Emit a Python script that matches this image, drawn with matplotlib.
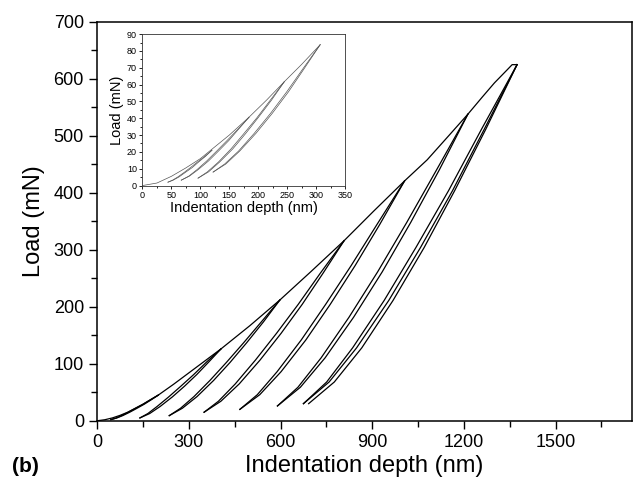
import matplotlib.pyplot as plt
from matplotlib.ticker import MultipleLocator

plt.rcParams['font.family'] = ['Liberation Sans', 'DejaVu Sans']

# loading envelope (main test)
env_depth = [0, 25, 50, 75, 100, 150, 200, 250, 300, 350, 405, 500, 598, 700, 808, 905, 1006, 1080, 1150, 1213, 1260, 1300, 1340, 1358, 1374]
env_load = [0, 1.8, 5, 9.5, 15, 29, 45, 64, 84, 104, 126, 167, 212, 262, 316, 368, 421, 458, 500, 538, 568, 593, 615, 625, 625]

# unloading curves, one list per cycle (peak -> end)
unload_depth = [
    [200, 177, 154, 130, 107, 84, 64, 45],
    [405, 365, 326, 286, 246, 206, 172, 140],
    [598, 544, 489, 435, 381, 327, 279, 236],
    [808, 739, 671, 602, 533, 465, 405, 350],
    [1006, 925, 844, 763, 683, 602, 532, 467],
    [1213, 1120, 1026, 933, 839, 746, 665, 590],
    [1374, 1267, 1163, 1058, 954, 849, 759, 675],
    [1374, 1272, 1170, 1070, 968, 866, 776, 692],
]
unload_load = [
    [45, 36.8, 29.0, 21.8, 15.1, 9.1, 4.8, 2],
    [126, 103.0, 81.1, 60.7, 41.8, 25.0, 12.7, 5],
    [212, 173.4, 136.7, 102.4, 70.7, 42.5, 22.0, 9],
    [316, 258.8, 204.3, 153.5, 106.5, 64.7, 34.3, 15],
    [421, 344.8, 272.2, 204.5, 141.9, 86.2, 45.7, 20],
    [538, 440.7, 348.0, 261.5, 181.6, 110.5, 58.8, 26],
    [625, 512, 404, 304, 211, 128, 68, 30],
    [625, 512, 404, 304, 211, 128, 68, 30],
]
# reloading curves back up to the previous peak (end -> peak)
reload_depth = [
    [45, 62, 80, 102, 125, 150, 174, 200],
    [140, 166, 196, 234, 274, 316, 358, 405],
    [236, 273, 317, 369, 423, 479, 537, 598],
    [350, 397, 452, 518, 587, 658, 730, 808],
    [467, 524, 589, 668, 748, 831, 916, 1006],
    [590, 657, 733, 824, 918, 1013, 1111, 1213],
    [675, 751, 836, 939, 1043, 1150, 1258, 1374],
]
reload_load = [
    [2, 4.8, 9.1, 15.1, 21.8, 29.0, 36.8, 45],
    [5, 12.7, 25.0, 41.8, 60.7, 81.1, 103.0, 126],
    [9, 22.0, 42.5, 70.7, 102.4, 136.7, 173.4, 212],
    [15, 34.3, 64.7, 106.5, 153.5, 204.3, 258.8, 316],
    [20, 45.7, 86.2, 141.9, 204.5, 272.2, 344.8, 421],
    [26, 58.8, 110.5, 181.6, 261.5, 348.0, 440.7, 538],
    [30, 68, 128, 211, 304, 404, 512, 625],
]

# inset: low load test
in_env_depth = [0, 25, 50, 75, 100, 125, 150, 184, 215, 245, 275, 307]
in_env_load = [0, 1.5, 5.5, 10.5, 16, 23, 30, 40.6, 51, 61.7, 72, 83.7]
in_unload_depth = [
    [120, 109, 97, 86, 74, 63, 53, 44],
    [184, 166, 149, 131, 114, 96, 81, 67],
    [245, 223, 200, 178, 156, 133, 114, 96],
    [307, 279, 252, 224, 196, 168, 144, 122],
]
in_unload_load = [
    [21, 17.4, 14.0, 10.7, 7.8, 5.1, 3.2, 2],
    [40.6, 33.5, 26.7, 20.4, 14.6, 9.4, 5.6, 3.2],
    [61.7, 50.8, 40.4, 30.8, 21.8, 13.9, 8.1, 4.4],
    [83.7, 69.3, 55.6, 42.8, 31.0, 20.5, 12.8, 8],
]
in_reload_depth = [
    [44, 52, 61, 72, 83, 95, 108, 120],
    [67, 80, 94, 111, 128, 146, 165, 184],
    [96, 112, 131, 153, 175, 198, 221, 245],
    [122, 142, 166, 193, 221, 249, 277, 307],
]
in_reload_load = [
    [2, 3.2, 5.1, 7.8, 10.7, 14.0, 17.4, 21],
    [3.2, 5.6, 9.4, 14.6, 20.4, 26.7, 33.5, 40.6],
    [4.4, 8.1, 13.9, 21.8, 30.8, 40.4, 50.8, 61.7],
    [8, 12.8, 20.5, 31.0, 42.8, 55.6, 69.3, 83.7],
]

fig = plt.figure(figsize=(6.39, 4.87), dpi=100)
ax = fig.add_axes([0.152, 0.136, 0.837, 0.819])

lw = 0.9
ax.plot(env_depth, env_load, color='black', linewidth=lw)
for h, p in zip(unload_depth, unload_load):
    ax.plot(h, p, color='black', linewidth=lw)
for h, p in zip(reload_depth, reload_load):
    ax.plot(h, p, color='black', linewidth=lw)

ax.set_xlim(0, 1750)
ax.set_ylim(0, 700)
ax.xaxis.set_major_locator(MultipleLocator(300))
ax.xaxis.set_minor_locator(MultipleLocator(150))
ax.yaxis.set_major_locator(MultipleLocator(100))
ax.yaxis.set_minor_locator(MultipleLocator(50))
ax.tick_params(which='both', direction='out', top=False, right=False, labelsize=13, width=1)
ax.tick_params(which='major', length=6)
ax.tick_params(which='minor', length=4)
for s in ax.spines.values():
    s.set_linewidth(1.1)
ax.set_xlabel('Indentation depth (nm)', fontsize=17, labelpad=3)
ax.set_ylabel('Load (mN)', fontsize=17, labelpad=6)
fig.text(0.018, 0.03, '(b)', fontsize=15, fontweight='bold')

# inset
ins = fig.add_axes([0.223, 0.619, 0.317, 0.311])
gray = '#555555'
for h, p in [(in_env_depth, in_env_load)] + list(zip(in_unload_depth, in_unload_load)) + list(zip(in_reload_depth, in_reload_load)):
    ins.plot(h, p, color=gray, linewidth=0.5)
ins.set_xlim(0, 350)
ins.set_ylim(0, 90)
ins.xaxis.set_major_locator(MultipleLocator(50))
ins.xaxis.set_minor_locator(MultipleLocator(25))
ins.yaxis.set_major_locator(MultipleLocator(10))
ins.yaxis.set_minor_locator(MultipleLocator(5))
ins.tick_params(which='both', direction='out', top=False, right=False, labelsize=6.5, width=0.6, pad=1.5)
ins.tick_params(which='major', length=2.5)
ins.tick_params(which='minor', length=1.5)
for s in ins.spines.values():
    s.set_linewidth(0.6)
    s.set_color('#333333')
ins.set_xlabel('Indentation depth (nm)', fontsize=10.5, labelpad=1)
ins.set_ylabel('Load (mN)', fontsize=10.5, labelpad=2)

fig.savefig('out.png', dpi=100)
